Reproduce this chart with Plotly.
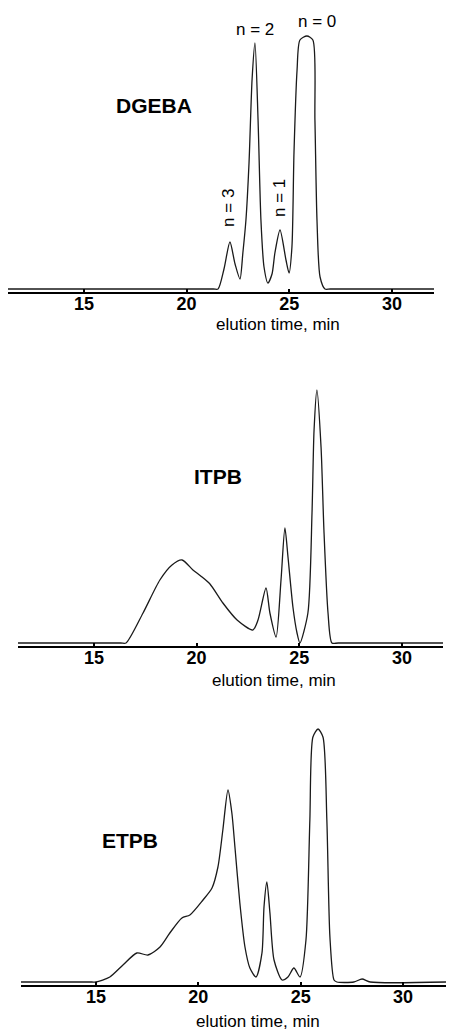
import plotly.graph_objects as go

W, H = 451, 1034

tick_vals = [15, 20, 25, 30]
tick_text = ["15", "20", "25", "30"]
x_title = "elution time, min"
sample_names = ["DGEBA", "ITPB", "ETPB"]
oligomer_labels = ["n = 3", "n = 2", "n = 1", "n = 0"]

dgeba_time = [11.3, 21.3, 21.53, 21.82, 22.11, 22.36, 22.60, 22.74, 22.89, 23.04,
              23.19, 23.33, 23.48, 23.62, 23.77, 23.96, 24.16, 24.30, 24.55, 24.84,
              24.99, 25.13, 25.23, 25.38, 25.52, 25.86, 26.15, 26.25, 26.35, 26.50,
              26.74, 27.0, 32.05]
dgeba_signal = [0, 0, 0, 20, 47, 25, 10, 36, 69, 126,
                210, 246, 169, 69, 22, 6, 15, 36, 59, 29,
                16, 42, 136, 219, 249, 253, 249, 169, 69, 12,
                0, 0, 0]

itpb_time = [11.3, 16.3, 16.56, 17.39, 18.21, 18.8, 19.29, 19.82, 20.2, 20.65,
             21.28, 21.97, 22.74, 22.99, 23.38, 23.57, 23.87, 24.11, 24.30, 24.45,
             24.69, 24.89, 25.03, 25.42, 25.62, 25.72, 25.86, 26.06, 26.2, 26.4,
             26.59, 26.9, 32.0]
itpb_signal = [0, 0, 0, 30, 63, 78, 83, 73, 67, 59,
               40, 23, 13, 23, 55, 30, 6, 63, 115, 86,
               36, 10, 0, 30, 130, 213, 253, 196, 113, 30,
               0, 0, 0]

etpb_time = [11.34, 14.8, 15.0, 15.68, 16.32, 17.0, 17.54, 18.13, 18.61, 19.2,
             19.59, 20.23, 20.67, 20.96, 21.2, 21.45, 21.64, 21.79, 22.03, 22.28,
             22.52, 22.82, 23.11, 23.21, 23.35, 23.5, 23.7, 24.09, 24.38, 24.67,
             24.97, 25.26, 25.45, 25.6, 25.85, 26.09, 26.28, 26.43, 26.63, 26.77,
             27.6, 28.0, 28.4, 32.1]
etpb_signal = [0, 0, 0, 5, 17, 29, 27, 35, 49, 64,
               67, 82, 94, 115, 152, 192, 169, 135, 79, 35,
               14, 5, 29, 75, 100, 69, 22, 2, 5, 14,
               5, 42, 162, 245, 253, 245, 162, 45, 2, 0,
               0, 3, 0, 0]

# panel geometry in pixels: (x_left, x_right), (y_top, y_axis_line), x range
panels = [
    dict(px=(8, 434), py=(10, 292), xr=(11.30, 32.05)),
    dict(px=(18, 443), py=(350, 646), xr=(11.30, 32.0)),
    dict(px=(21, 446), py=(700, 985), xr=(11.34, 32.1)),
]
series = [(dgeba_time, dgeba_signal), (itpb_time, itpb_signal), (etpb_time, etpb_signal)]

fig = go.Figure()
layout = dict(
    width=W, height=H, margin=dict(l=0, r=0, t=0, b=0),
    paper_bgcolor="white", plot_bgcolor="white", showlegend=False,
)

for i, (p, (t, s)) in enumerate(zip(panels, series)):
    k = "" if i == 0 else str(i + 1)
    fig.add_trace(go.Scatter(
        x=t, y=s, mode="lines", xaxis="x" + k, yaxis="y" + k,
        line=dict(color="#1a1a1a", width=1.3, shape="spline", smoothing=0.7),
        hoverinfo="skip",
    ))
    x0, x1 = p["px"]
    ytop, ybot = p["py"]
    layout["xaxis" + k] = dict(
        domain=[x0 / W, x1 / W], range=list(p["xr"]), anchor="y" + k,
        showgrid=False, zeroline=False, showline=True, linecolor="black", linewidth=1.5,
        ticks="inside", ticklen=3, tickwidth=2, tickcolor="black",
        tickvals=tick_vals, ticktext=tick_text, ticklabelstandoff=-5,
        tickfont=dict(family="Liberation Sans", size=18, color="black", weight="bold"),
    )
    layout["yaxis" + k] = dict(
        domain=[1 - ybot / H, 1 - ytop / H], range=[-3, ybot - ytop - 3], anchor="x" + k,
        visible=False, showgrid=False, zeroline=False,
    )

fig.update_layout(**layout)

# axis titles
title_pos = [(278, 324), (274, 680), (258, 1021)]
for (tx, ty) in title_pos:
    fig.add_annotation(
        x=tx / W, y=1 - ty / H, xref="paper", yref="paper", text=x_title,
        showarrow=False, xanchor="center", yanchor="middle",
        font=dict(family="Liberation Sans", size=17, color="black"),
    )

# sample names
name_pos = [("x", "y", 18.41, 184), ("x2", "y2", 21.04, 167), ("x3", "y3", 16.66, 142)]
for name, (xr, yr, tx, ty) in zip(sample_names, name_pos):
    fig.add_annotation(
        x=tx, y=ty, xref=xr, yref=yr, text=name, showarrow=False,
        xanchor="center", yanchor="middle",
        font=dict(family="Liberation Sans", size=21, color="black", weight="bold"),
    )

# oligomer labels on DGEBA panel
olig_pos = [(22.01, 81, -90), (23.33, 259, 0), (24.5, 91, -90), (26.35, 267, 0)]
for lab, (tx, ty, ang) in zip(oligomer_labels, olig_pos):
    fig.add_annotation(
        x=tx, y=ty, xref="x", yref="y", text=lab, showarrow=False, textangle=ang,
        xanchor="center", yanchor="middle",
        font=dict(family="Liberation Sans", size=17, color="black"),
    )

fig.write_html(
    "out.html",
    config={"displayModeBar": False, "staticPlot": True},
    post_script="document.body.style.margin='0';document.body.style.overflow='hidden';",
)
